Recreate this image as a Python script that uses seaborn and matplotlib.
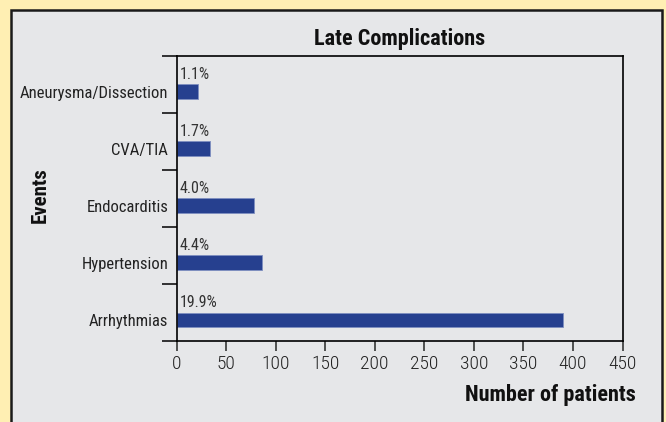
import matplotlib
matplotlib.use('Agg')
import matplotlib.pyplot as plt
import seaborn as sns
import pandas as pd
from matplotlib.patches import Rectangle
from matplotlib.ticker import FixedLocator

# ---- data ----
events = ["Aneurysma/Dissection", "CVA/TIA", "Endocarditis", "Hypertension", "Arrhythmias"]
patients = [22, 34, 78, 86, 390]
percent_labels = ["1.1%", "1.7%", "4.0%", "4.4%", "19.9%"]
x_ticks = [0, 50, 100, 150, 200, 250, 300, 350, 400, 450]

sns.set_style('ticks')
plt.rcParams['font.family'] = ['Roboto Condensed', 'DejaVu Sans']

W, H = 666, 422
fig = plt.figure(figsize=(W / 100, H / 100), dpi=100, facecolor='#FFEFB3')
fig.patches.append(Rectangle((11 / W, -0.05), (662 - 11) / W, (H - 10) / H + 0.05,
                             transform=fig.transFigure, facecolor='#E6E7E9',
                             edgecolor='#1a1a1a', lw=1.8, zorder=-10))

ax = fig.add_axes([176.5 / W, 1 - 341 / H, 446 / W, 285 / H])
ax.set_zorder(5)
ax.set_facecolor('#E6E7E9')

df = pd.DataFrame({'Events': events, 'Patients': patients})
sns.barplot(data=df, x='Patients', y='Events', orient='h', color='#26408F',
            saturation=1, width=0.26, edgecolor='#7f8fc0', linewidth=0.6, ax=ax)

ax.set_ylim(len(events) - 0.63, -0.63)
ax.set_xlim(x_ticks[0], x_ticks[-1])
ax.set_xticks(x_ticks)
ax.yaxis.set_minor_locator(FixedLocator([-0.63 + k for k in range(len(events) + 1)]))
ax.tick_params(axis='y', which='major', length=0, pad=6, labelsize=12, labelcolor='#222222')
ax.tick_params(axis='y', which='minor', length=11, width=1.1, color='black')
ax.tick_params(axis='x', which='major', length=7, width=1.1, direction='out', pad=3,
               labelsize=14, labelcolor='#222222')
for lab in ax.get_xticklabels():
    lab.set_fontweight('light')
for s in ax.spines.values():
    s.set_visible(True)
    s.set_color('black')
    s.set_linewidth(1.2)

for i, lab in enumerate(percent_labels):
    ax.text(3.5, i - 0.31, lab, ha='left', va='center', fontsize=11.5, color='#333333')

ax.set_xlabel('')
ax.set_ylabel('')
ax.set_title('Late Complications', fontsize=16, fontweight='bold', pad=8, color='#111111')
fig.text(636 / W, 1 - 395 / H, 'Number of patients', ha='right', va='center',
         fontsize=16, fontweight='bold', color='#111111')
fig.text(40 / W, 1 - 195 / H, 'Events', ha='center', va='center', rotation=90,
         fontsize=15, fontweight='bold', color='#111111')

fig.savefig('out.png', dpi=100, facecolor=fig.get_facecolor())
